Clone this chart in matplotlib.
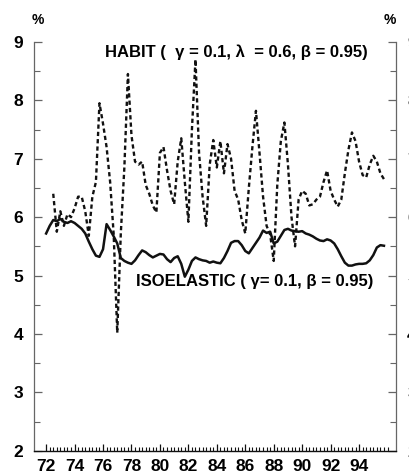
import numpy as np
import matplotlib
matplotlib.use("Agg")
from matplotlib import pyplot as plt
from matplotlib.ticker import FixedLocator, NullFormatter

# quarterly data, 1972Q1 .. 1995Q4
quarters = np.arange(72, 96, 0.25)

isoelastic = [
    5.72, 5.85, 5.95, 5.93, 5.97, 5.92, 5.90, 5.93, 5.90, 5.85,
    5.80, 5.72, 5.58, 5.45, 5.34, 5.32, 5.45, 5.88, 5.78, 5.67,
    5.55, 5.30, 5.25, 5.22, 5.20, 5.26, 5.35, 5.43, 5.40, 5.35,
    5.31, 5.34, 5.37, 5.36, 5.28, 5.23, 5.30, 5.33, 5.20, 4.98,
    5.10, 5.25, 5.31, 5.28, 5.26, 5.25, 5.22, 5.24, 5.22, 5.21,
    5.30, 5.42, 5.56, 5.59, 5.59, 5.52, 5.42, 5.38, 5.47, 5.56,
    5.65, 5.77, 5.73, 5.75, 5.55, 5.58, 5.68, 5.78, 5.80, 5.77,
    5.76, 5.75, 5.76, 5.72, 5.70, 5.67, 5.63, 5.60, 5.59, 5.62,
    5.60, 5.55, 5.45, 5.33, 5.22, 5.17, 5.17, 5.19, 5.20, 5.20,
    5.21, 5.26, 5.35, 5.48, 5.52, 5.51,
]

# habit series starts in 1972Q3
habit_quarters = quarters[2:]
habit = [
    6.40, 5.75, 6.10, 5.85, 6.05, 6.00, 6.15, 6.35, 6.35, 6.10,
    5.68, 6.35, 6.60, 7.95, 7.60, 7.20, 6.60, 5.70, 4.02, 5.72,
    6.85, 8.45, 7.40, 6.95, 6.90, 6.95, 6.55, 6.40, 6.20, 6.08,
    7.10, 7.20, 6.80, 6.45, 6.22, 6.95, 7.35, 6.60, 5.92, 7.50,
    8.70, 7.10, 6.35, 5.85, 6.90, 7.32, 6.85, 7.30, 6.75, 7.25,
    7.00, 6.45, 6.30, 5.95, 5.72, 6.50, 7.20, 7.82, 7.10, 6.35,
    5.85, 5.70, 5.25, 6.55, 7.30, 7.62, 6.90, 6.00, 5.50, 6.30,
    6.45, 6.40, 6.20, 6.22, 6.30, 6.35, 6.60, 6.80, 6.45, 6.30,
    6.18, 6.30, 6.75, 7.15, 7.45, 7.30, 6.95, 6.72, 6.68, 6.90,
    7.05, 6.95, 6.75, 6.65,
]

year_ticks = list(range(72, 96, 2))
year_labels = [str(y) for y in year_ticks]
pct_ticks = list(range(2, 10))

plt.rcParams["font.family"] = ["Liberation Sans", "DejaVu Sans"]

fig = plt.figure(figsize=(4.1, 4.76), dpi=100)
ax = fig.add_axes([0.083, 0.053, 0.883, 0.859])

ax.plot(quarters, isoelastic, color="#111111", linewidth=1.8, linestyle="solid")
ax.plot(habit_quarters, habit, color="#111111", linewidth=1.7, linestyle=(0, (1.8, 1.3)))

ax.set_xlim(71.15, 96.6)
ax.set_ylim(2, 9)

ax.spines["top"].set_visible(False)
for side in ["left", "right"]:
    ax.spines[side].set_color("#666666")
    ax.spines[side].set_linewidth(0.9)
ax.spines["bottom"].set_color("#111111")
ax.spines["bottom"].set_linewidth(1.0)

ax.xaxis.set_major_locator(FixedLocator(year_ticks))
ax.xaxis.set_minor_locator(FixedLocator(list(np.arange(72, 96.01, 0.25))))
ax.set_xticklabels(year_labels)
ax.tick_params(axis="x", which="major", direction="in", length=5, width=0.9,
               pad=6, labelsize=12.5, color="#111111")
ax.tick_params(axis="x", which="minor", direction="in", length=3, width=0.8, color="#111111")

ax.yaxis.set_major_locator(FixedLocator(pct_ticks))
ax.yaxis.set_minor_locator(FixedLocator([p + 0.5 for p in pct_ticks[:-1]]))
ax.yaxis.set_minor_formatter(NullFormatter())
ax.tick_params(axis="y", which="major", direction="in", length=6, width=0.9,
               pad=8, labelsize=12.5, left=True, right=True,
               labelleft=True, labelright=True, color="#666666")
ax.tick_params(axis="y", which="minor", direction="in", length=4, width=0.8,
               left=True, right=True, color="#666666")
for lbl in ax.get_xticklabels() + ax.get_yticklabels():
    lbl.set_fontweight("bold")

fig.text(38 / 410, 1 - 20 / 476, "%", ha="center", va="center", fontsize=10, fontweight="bold")
fig.text(390 / 410, 1 - 20 / 476, "%", ha="center", va="center", fontsize=10, fontweight="bold")

ax.text(76.15, 8.74, "HABIT (  \u03b3 = 0.1, \u03bb  = 0.6, \u03b2 = 0.95)",
        ha="left", va="baseline", fontsize=12, fontweight="bold")
ax.text(78.32, 4.815, "ISOELASTIC ( \u03b3= 0.1, \u03b2 = 0.95)",
        ha="left", va="baseline", fontsize=12, fontweight="bold")

plt.savefig("out.png", dpi=100)
